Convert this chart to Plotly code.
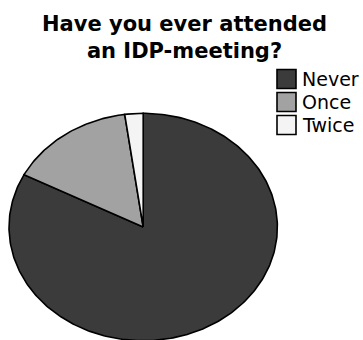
import numpy as np
import plotly.graph_objects as go

# ---- data ----
labels = ["Never", "Once", "Twice"]
percent = [82.6, 15.2, 2.2]
colors = ["#3b3b3b", "#a2a2a2", "#f4f4f4"]
title_text = "Have you ever attended<br>an IDP-meeting?"

W, H = 363, 340

fig = go.Figure()

# pie slices drawn as filled sectors of a unit circle, clockwise from 12 o'clock
vals = np.array(percent, dtype=float)
frac = vals / vals.sum()
starts = np.concatenate([[0.0], np.cumsum(frac)[:-1]])
for lab, f0, f, col in zip(labels, starts, frac, colors):
    n = max(int(f * 400), 6)
    t = np.linspace(f0, f0 + f, n)
    ang = np.pi / 2 - 2 * np.pi * t
    xs = np.concatenate([[0.0], np.cos(ang), [0.0]])
    ys = np.concatenate([[0.0], np.sin(ang), [0.0]])
    fig.add_trace(go.Scatter(
        x=xs, y=ys, mode="lines", fill="toself", fillcolor=col,
        line=dict(color="black", width=1.6), name=lab, showlegend=False,
        hoverinfo="name",
    ))

# axis ranges give the elliptical look of the original (pixels per unit differ)
px_x, cx = 134.2, 143.2
px_y, cy = 113.7, 227.0
xr = [-cx / px_x, (W - cx) / px_x]
yr = [-(H - cy) / px_y, cy / px_y]

fig.update_xaxes(range=xr, visible=False, fixedrange=True)
fig.update_yaxes(range=yr, visible=False, fixedrange=True)

# manual legend
box = 19
lx0 = 277
row_y = [79, 102, 125]
for lab, col, ry in zip(labels, colors, row_y):
    fig.add_shape(type="rect", xref="paper", yref="paper",
                  x0=lx0 / W, x1=(lx0 + box) / W,
                  y0=1 - (ry - box / 2) / H, y1=1 - (ry + box / 2) / H,
                  fillcolor=col, line=dict(color="black", width=1.6))
    fig.add_annotation(xref="paper", yref="paper", x=(lx0 + box + 4) / W,
                       y=1 - ry / H, text=lab, showarrow=False,
                       xanchor="left", yanchor="middle",
                       font=dict(family="DejaVu Sans", size=19, color="black"))

fig.add_annotation(xref="paper", yref="paper", x=184 / W, y=1 - 10 / H,
                   xanchor="center", yanchor="top", showarrow=False,
                   text=title_text,
                   font=dict(family="DejaVu Sans", size=21, color="black", weight="bold"))

fig.update_layout(
    width=W, height=H,
    margin=dict(l=0, r=0, t=0, b=0),
    paper_bgcolor="white", plot_bgcolor="white",
    showlegend=False,
)

fig.write_html("out.html")
